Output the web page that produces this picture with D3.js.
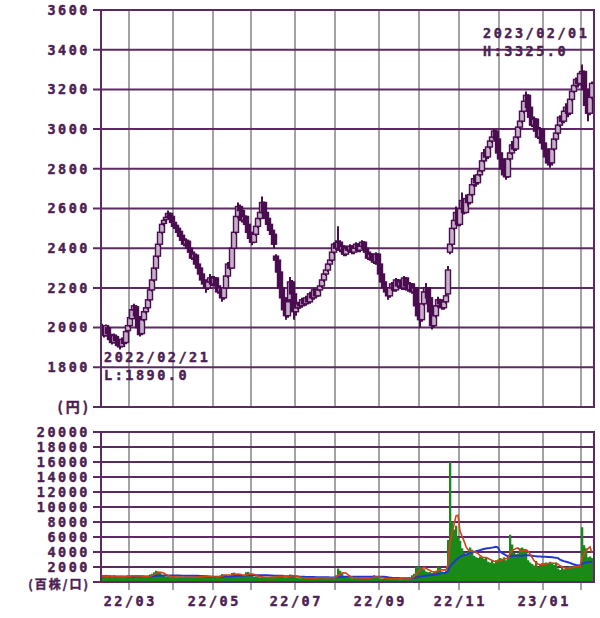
<!DOCTYPE html>
<html>
<head>
<meta charset="utf-8">
<script src="https://cdn.jsdelivr.net/npm/d3@7"></script>
<style>
body{margin:0;background:#fff}
text{font-family:"DejaVu Sans Mono",monospace;font-weight:bold;font-size:13.5px;letter-spacing:2.5px;fill:#4e1f52;stroke:#4e1f52;stroke-width:0.45px}
</style>
</head>
<body>
<svg id="chart" width="600" height="618"></svg>
<script>
// trading days per month, first month is partial (from 2022/02/07)
var monthLabels=["22/02","22/03","22/04","22/05","22/06","22/07","22/08","22/09","22/10","22/11","22/12","23/01","23/02"];
var monthDays=[14,22,20,19,22,20,22,20,20,20,22,19,6];
var shownLabels=["22/03","22/05","22/07","22/09","22/11","23/01"];
var priceTicks=[1800,2000,2200,2400,2600,2800,3000,3200,3400,3600];
var volTicks=[2000,4000,6000,8000,10000,12000,14000,16000,18000,20000];
var highNote=["2023/02/01","H:3325.0"];
var lowNote=["2022/02/21","L:1890.0"];

// daily [open, high, low, close]
var ohlc=[
[2000,2020,1965,1980],[1985,2000,1950,1960],[1960,2015,1955,2010],[2000,2010,1960,1970],[1965,1975,1930,1940],
[1945,1955,1915,1925],[1925,1970,1920,1960],[1955,1965,1925,1935],[1940,1945,1900,1910],[1915,1930,1890,1905],
[1905,1950,1900,1940],[1935,1945,1910,1920],[1925,1990,1920,1980],[1985,2020,1975,2010],
[2010,2060,2000,2050],[2045,2100,2040,2090],[2090,2120,2080,2110],[2105,2110,2050,2060],[2055,2060,1990,2000],
[1995,2005,1955,1965],[1970,2050,1965,2040],[2040,2090,2030,2080],[2080,2110,2070,2100],[2100,2150,2090,2140],
[2140,2200,2130,2190],[2190,2250,2180,2240],[2240,2310,2230,2300],[2300,2370,2290,2360],[2360,2430,2350,2420],
[2420,2490,2410,2480],[2480,2530,2470,2520],[2525,2550,2510,2540],[2545,2570,2530,2555],[2560,2590,2550,2575],
[2575,2580,2545,2560],[2560,2565,2520,2530],
[2530,2540,2500,2510],[2515,2530,2490,2500],[2500,2510,2470,2480],[2485,2495,2450,2460],[2465,2475,2430,2440],
[2440,2450,2410,2420],[2420,2450,2410,2440],[2435,2440,2390,2400],[2400,2410,2370,2380],[2380,2390,2340,2350],
[2350,2380,2340,2370],[2365,2370,2310,2320],[2320,2330,2290,2300],[2300,2310,2260,2270],[2270,2280,2230,2240],
[2240,2250,2210,2220],[2220,2230,2175,2200],[2200,2240,2190,2230],[2230,2270,2220,2250],[2250,2260,2210,2220],
[2220,2260,2210,2250],[2250,2255,2200,2210],[2210,2215,2170,2180],[2180,2210,2170,2200],[2195,2200,2130,2150],
[2150,2210,2140,2200],[2200,2270,2195,2260],[2260,2330,2250,2320],[2320,2340,2290,2300],[2300,2410,2295,2400],
[2400,2490,2395,2480],[2480,2570,2470,2560],[2560,2630,2550,2610],[2610,2620,2580,2590],[2590,2595,2530,2540],
[2540,2570,2530,2560],[2560,2565,2510,2520],[2520,2525,2470,2480],[2480,2490,2440,2450],
[2450,2460,2415,2430],[2430,2480,2425,2470],[2470,2520,2460,2510],[2510,2560,2500,2550],[2550,2590,2540,2580],
[2580,2660,2575,2630],[2630,2635,2570,2580],[2580,2590,2540,2550],[2550,2560,2510,2520],[2520,2530,2480,2490],
[2490,2500,2460,2470],[2470,2480,2400,2420],[2360,2370,2320,2340],[2340,2345,2270,2280],[2280,2290,2190,2200],
[2200,2210,2140,2150],[2150,2160,2080,2090],[2090,2100,2040,2060],[2060,2140,2050,2130],[2140,2255,2130,2230],
[2230,2240,2160,2170],[2170,2180,2040,2080],
[2080,2110,2060,2100],[2100,2130,2090,2120],[2120,2130,2095,2110],[2110,2150,2100,2140],[2140,2145,2110,2120],
[2120,2160,2110,2150],[2150,2155,2120,2130],[2130,2180,2120,2170],[2170,2175,2140,2150],[2150,2200,2140,2190],
[2190,2195,2150,2160],[2160,2200,2155,2190],[2190,2220,2180,2210],[2210,2250,2200,2240],[2240,2280,2230,2270],
[2270,2300,2260,2290],[2290,2330,2280,2320],[2320,2350,2310,2340],[2340,2390,2330,2380],[2380,2430,2370,2420],
[2420,2440,2390,2400],[2400,2510,2390,2430],[2430,2440,2380,2390],[2390,2420,2380,2410],[2410,2415,2360,2370],
[2370,2410,2360,2400],[2400,2410,2380,2390],[2390,2420,2380,2410],[2410,2415,2370,2380],[2380,2410,2370,2400],
[2400,2430,2390,2420],[2420,2425,2380,2390],[2390,2420,2380,2410],[2410,2440,2400,2430],[2430,2435,2390,2400],
[2400,2405,2370,2380],[2380,2385,2340,2350],[2350,2380,2340,2370],[2370,2375,2330,2340],[2340,2350,2320,2330],
[2330,2380,2320,2370],[2370,2375,2310,2320],
[2320,2325,2260,2270],[2270,2280,2220,2230],[2230,2240,2190,2200],[2200,2210,2170,2180],[2180,2190,2140,2160],
[2160,2210,2150,2200],[2200,2230,2190,2220],[2220,2225,2180,2190],[2190,2250,2180,2240],[2240,2245,2200,2210],
[2210,2240,2200,2230],[2230,2235,2190,2200],[2200,2260,2190,2250],[2250,2255,2200,2210],[2210,2220,2180,2190],
[2190,2230,2180,2220],[2220,2225,2170,2180],[2180,2210,2170,2200],[2200,2205,2100,2110],[2110,2120,2050,2060],
[2060,2070,2000,2040],[2040,2130,2030,2120],[2120,2190,2110,2180],[2180,2225,2170,2200],[2200,2205,2140,2150],
[2150,2155,2070,2080],[2080,2090,1990,2010],[2010,2070,2000,2060],[2060,2120,2050,2110],[2110,2155,2100,2140],
[2140,2145,2110,2120],[2120,2130,2090,2100],[2100,2140,2090,2130],[2130,2170,2120,2160],[2170,2310,2165,2290],
[2380,2450,2370,2420],[2420,2525,2410,2500],[2500,2560,2490,2540],[2540,2610,2530,2580],[2580,2590,2510,2520],
[2520,2620,2510,2600],[2600,2680,2590,2640],[2640,2650,2570,2580],[2580,2670,2575,2650],[2650,2660,2610,2630],
[2630,2690,2620,2670],[2670,2740,2660,2720],[2720,2770,2710,2750],[2750,2760,2710,2730],[2730,2790,2720,2770],
[2770,2800,2760,2790],[2790,2860,2780,2840],[2840,2900,2830,2880],[2880,2890,2840,2860],[2860,2930,2850,2910],
[2910,2960,2900,2940],[2940,2980,2930,2960],[2960,3000,2950,2990],[2990,2995,2940,2950],[2950,2955,2870,2880],
[2880,2900,2840,2850],[2850,2860,2790,2800],[2800,2810,2760,2770],[2770,2790,2745,2760],[2760,2860,2755,2850],
[2850,2900,2840,2880],[2880,2940,2870,2920],[2920,2930,2890,2900],[2900,2970,2890,2960],[2960,3020,2950,3010],
[3010,3060,3000,3040],[3040,3100,3030,3090],[3090,3150,3080,3140],[3140,3190,3130,3170],[3170,3175,3100,3110],
[3110,3120,3050,3060],[3060,3070,3010,3020],[3020,3060,3010,3050],[3050,3055,2980,2990],[2990,3000,2950,2960],
[2960,3010,2950,3000],[3000,3005,2920,2930],
[2930,2940,2890,2900],[2900,2910,2850,2860],[2860,2870,2820,2830],[2830,2850,2805,2830],[2830,2910,2825,2900],
[2900,2960,2890,2950],[2950,2990,2940,2980],[2980,3030,2970,3020],[3020,3070,3010,3060],[3060,3070,3030,3040],
[3040,3100,3030,3090],[3090,3130,3080,3110],[3110,3120,3060,3080],[3080,3160,3070,3150],[3150,3200,3140,3190],
[3190,3230,3180,3220],[3220,3260,3210,3250],[3250,3255,3210,3230],[3230,3290,3220,3280],
[3280,3325,3270,3290],[3290,3295,3190,3200],[3200,3210,3100,3120],[3120,3130,3040,3080],[3080,3170,3070,3160],
[3160,3240,3150,3230]
];

// daily volume (hundreds of shares)
var volume=[
800,750,900,650,700,600,850,700,650,800,600,700,750,900,
800,850,700,900,750,800,700,650,700,800,1000,1100,1300,1500,1400,1200,900,800,700,750,650,700,
700,600,650,700,600,650,600,700,650,600,700,750,650,700,800,900,800,700,650,600,
700,650,800,850,1050,1000,950,800,900,1200,1250,1000,900,850,800,900,1300,1350,1000,
800,700,750,650,600,700,650,600,550,600,700,650,900,800,750,700,650,600,800,1000,950,700,
600,550,500,600,550,500,450,500,550,600,500,550,600,650,550,500,600,550,500,600,
900,1800,1500,1200,800,700,600,550,500,550,500,600,550,500,450,500,550,600,700,900,600,550,
500,450,400,450,500,400,450,500,450,400,350,400,450,400,500,600,900,1100,2000,2100,
2000,1900,1700,1400,1300,1350,1200,1400,1500,2000,1900,1400,1300,1500,5600,16000,8000,7000,7500,6000,
5500,4500,3900,3700,4000,4600,4300,3500,3300,3200,3400,3300,3100,3300,2700,2600,2800,2500,2900,3000,
3200,3100,3300,2900,3500,6300,5000,3900,3700,3800,4500,4600,4400,4200,2900,2600,2400,2200,2800,2000,2300,2500,
2500,2600,2400,2700,2500,2300,2600,1800,1600,2000,1700,1900,2000,2100,1900,2200,2000,2100,2300,
7300,4900,4500,3300,3400,3200
];

var purple="#5c2a62", gray="#a3a3a3", dark="#4a0d4f", hollow="#c6b0c8";
var left=101, right=594;
var svg=d3.select("#chart");

var n=ohlc.length;
var x=d3.scaleBand().domain(d3.range(n)).range([left,left+2*n]).padding(0);
var y=d3.scaleLinear().domain([1600,3600]).range([407,10]);
var vy=d3.scaleLinear().domain([0,20000]).range([582,432]);

// month boundaries
var monthStart=[],acc=0;
monthDays.forEach(function(d,i){monthStart.push({label:monthLabels[i],idx:acc});acc+=d;});
var gridMonths=monthStart.slice(1);

function cx(i){return x(i)+x.bandwidth()/2;}

// ---------- price panel ----------
svg.append("g").selectAll("line").data(gridMonths).enter().append("line")
    .attr("x1",function(d){return x(d.idx);}).attr("x2",function(d){return x(d.idx);})
    .attr("y1",y(3600)).attr("y2",y(1600))
    .attr("stroke",gray).attr("stroke-width",2);
svg.append("g").selectAll("line").data([1600].concat(priceTicks)).enter().append("line")
    .attr("x1",93).attr("x2",right)
    .attr("y1",function(d){return y(d);}).attr("y2",function(d){return y(d);})
    .attr("stroke",purple).attr("stroke-width",2);

svg.append("clipPath").attr("id","cp").append("rect")
    .attr("x",left).attr("y",y(3600)).attr("width",right-left).attr("height",y(1600)-y(3600));
var candles=svg.append("g").attr("clip-path","url(#cp)");
ohlc.forEach(function(d,i){
    var o=d[0],h=d[1],l=d[2],c=d[3];
    candles.append("line")
        .attr("x1",cx(i)).attr("x2",cx(i)).attr("y1",y(h)).attr("y2",y(l))
        .attr("stroke",dark).attr("stroke-width",2);
    var top=y(Math.max(o,c)),bot=y(Math.min(o,c));
    candles.append("rect")
        .attr("x",cx(i)-2.5).attr("width",5)
        .attr("y",top).attr("height",Math.max(2,bot-top))
        .attr("fill",c>o?hollow:dark).attr("stroke",dark).attr("stroke-width",1.4);
});

svg.append("line").attr("x1",left).attr("x2",left).attr("y1",y(3600)-1).attr("y2",y(1600)+1)
    .attr("stroke",purple).attr("stroke-width",2);
svg.append("line").attr("x1",right).attr("x2",right).attr("y1",y(3600)-1).attr("y2",y(1600)+1)
    .attr("stroke",purple).attr("stroke-width",2);

var pa=svg.append("g").attr("transform","translate("+left+",0)")
    .call(d3.axisLeft(y).tickValues(priceTicks).tickSize(8).tickPadding(3).tickFormat(d3.format("d")));
pa.select(".domain").remove();
pa.selectAll(".tick line").remove();
pa.selectAll(".tick text").attr("fill",null).attr("font-family",null).attr("font-size",null);
svg.append("text").attr("x",91).attr("y",y(1600)+5).attr("text-anchor","end")
    .style("font-family","'Noto Sans CJK JP',sans-serif").style("font-size","14px").style("letter-spacing","3px").text("(円)");

svg.append("text").attr("x",483).attr("y",38).text(highNote[0]);
svg.append("text").attr("x",483).attr("y",56).text(highNote[1]);
svg.append("text").attr("x",104).attr("y",362).text(lowNote[0]);
svg.append("text").attr("x",104).attr("y",380).text(lowNote[1]);

// ---------- volume panel ----------
svg.append("g").selectAll("line").data(gridMonths).enter().append("line")
    .attr("x1",function(d){return x(d.idx);}).attr("x2",function(d){return x(d.idx);})
    .attr("y1",vy(20000)).attr("y2",590)
    .attr("stroke",gray).attr("stroke-width",2);
svg.append("g").selectAll("line").data(volTicks).enter().append("line")
    .attr("x1",93).attr("x2",right)
    .attr("y1",function(d){return vy(d);}).attr("y2",function(d){return vy(d);})
    .attr("stroke",purple).attr("stroke-width",2);

svg.append("clipPath").attr("id","cv").append("rect")
    .attr("x",left).attr("y",vy(20000)).attr("width",right-left).attr("height",vy(0)-vy(20000));
var vol=svg.append("g").attr("clip-path","url(#cv)");
vol.selectAll("rect").data(volume).enter().append("rect")
    .attr("x",function(d,i){return x(i);}).attr("width",x.bandwidth()+0.3)
    .attr("y",function(d){return vy(d);}).attr("height",function(d){return vy(0)-vy(d);})
    .attr("fill","#198a17");

function movingAvg(len){
    return volume.map(function(v,i){return d3.mean(volume.slice(Math.max(0,i-len+1),i+1));});
}
var line=d3.line().x(function(d,i){return cx(i);}).y(function(d){return vy(d);});
vol.append("path").datum(movingAvg(25)).attr("d",line).attr("fill","none")
    .attr("stroke","#2436d0").attr("stroke-width",2);
vol.append("path").datum(movingAvg(5)).attr("d",line).attr("fill","none")
    .attr("stroke","#d2421a").attr("stroke-width",1.6);

svg.append("line").attr("x1",93).attr("x2",right).attr("y1",vy(0)).attr("y2",vy(0))
    .attr("stroke",purple).attr("stroke-width",2);
svg.append("line").attr("x1",left).attr("x2",left).attr("y1",vy(20000)-1).attr("y2",vy(0)+1)
    .attr("stroke",purple).attr("stroke-width",2);
svg.append("line").attr("x1",right).attr("x2",right).attr("y1",vy(20000)-1).attr("y2",vy(0)+1)
    .attr("stroke",purple).attr("stroke-width",2);

var va=svg.append("g").attr("transform","translate("+left+",0)")
    .call(d3.axisLeft(vy).tickValues(volTicks).tickSize(8).tickPadding(3).tickFormat(d3.format("d")));
va.select(".domain").remove();
va.selectAll(".tick line").remove();
va.selectAll(".tick text").attr("fill",null).attr("font-family",null).attr("font-size",null);
svg.append("text").attr("x",90).attr("y",589).attr("text-anchor","end")
    .style("font-family","'Noto Sans CJK JP',sans-serif").style("font-size","12px").style("letter-spacing","2px").text("(百株/口)");

svg.append("g").selectAll("text").data(gridMonths.filter(function(d){return shownLabels.indexOf(d.label)>=0;}))
    .enter().append("text")
    .attr("x",function(d){return x(d.idx)+1.3;}).attr("y",606).attr("text-anchor","middle")
    .text(function(d){return d.label;});
</script>
</body>
</html>
